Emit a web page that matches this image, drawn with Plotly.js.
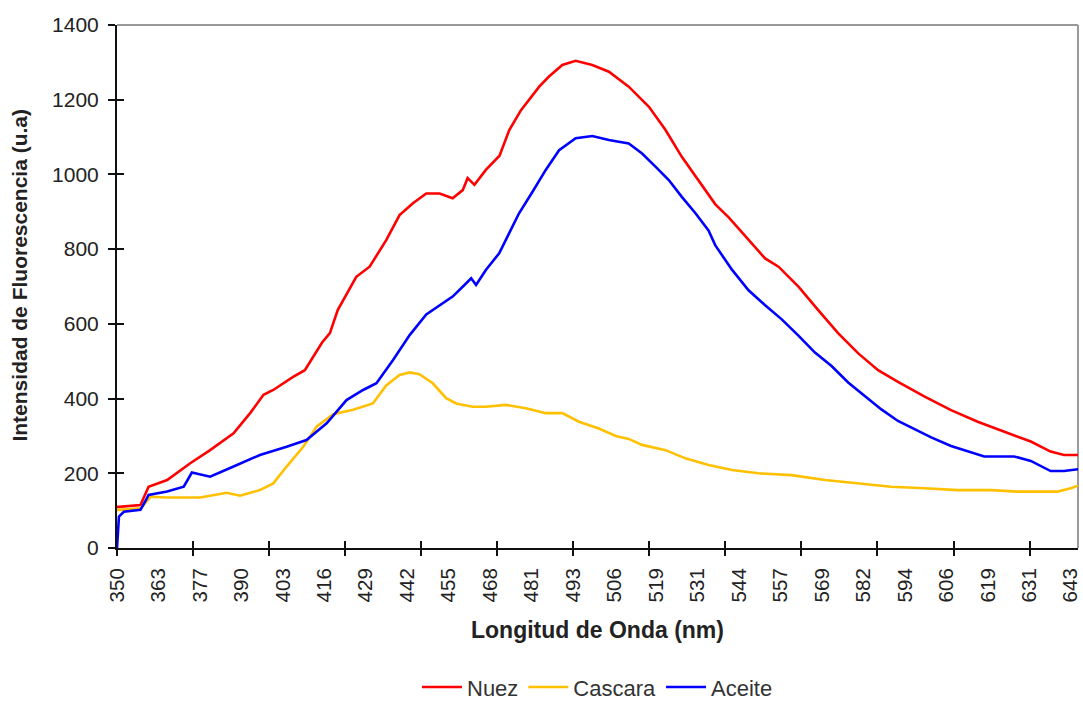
<!DOCTYPE html>
<html>
<head>
<meta charset="utf-8">
<script src="https://cdn.plot.ly/plotly-3.0.1.min.js"></script>
<style>
  html, body { margin: 0; padding: 0; background: #fff; }
  #chart { width: 1083px; height: 702px; }
</style>
</head>
<body>
<div id="chart"></div>
<script>
// ---- data ----
const tickLabels = ['350','363','377','390','403','416','429','442','455','468','481','493',
                    '506','519','531','544','557','569','582','594','606','619','631','643'];

const nuezX = [350, 350.6, 357.2, 358.7, 359.7, 365.4, 372.5, 378.6, 385.8, 390.9, 395.0, 398.0, 404.1, 407.7, 411.3, 413.0, 415.4, 417.8, 423.5, 427.6, 432.7, 436.8, 440.9, 445.0, 449.1, 453.1, 456.2, 457.7, 459.8, 463.3, 467.5, 470.5, 474.1, 479.7, 482.7, 486.8, 490.9, 496.0, 501.1, 507.2, 513.4, 518.5, 523.5, 529.7, 533.8, 537.9, 543.0, 549.1, 553.2, 559.4, 565.4, 571.5, 577.7, 583.8, 589.9, 598.1, 606.2, 614.4, 622.6, 630.7, 636.8, 640.9, 645.2];
const nuezY = [110, 110, 115, 146, 164, 182, 227, 262, 307, 361, 410, 423, 458, 476, 525, 550, 575, 637, 726, 753, 824, 891, 923, 949, 949, 936, 958, 990, 972, 1012, 1050, 1119, 1172, 1235, 1262, 1293, 1304, 1293, 1275, 1235, 1181, 1119, 1047, 970, 920, 885, 835, 775, 753, 699, 637, 575, 521, 476, 445, 405, 369, 338, 311, 285, 258, 249, 249];

const cascaraX = [350, 350.6, 357.2, 360.3, 365.4, 375.6, 383.7, 387.8, 393.9, 398.0, 402.1, 407.2, 411.3, 416.4, 422.5, 428.6, 432.7, 436.8, 439.9, 442.9, 447.0, 451.1, 454.2, 456.2, 459.2, 463.3, 469.5, 475.6, 481.7, 486.8, 491.9, 498.0, 503.2, 507.2, 511.3, 518.5, 524.6, 531.7, 538.9, 547.0, 557.2, 567.5, 577.7, 587.8, 598.1, 608.3, 618.5, 626.6, 638.9, 643.0, 645.2];
const cascaraY = [102, 102, 106, 137, 135, 135, 148, 140, 155, 173, 218, 271, 325, 358, 370, 387, 435, 463, 470, 465, 441, 401, 387, 383, 378, 378, 383, 374, 361, 361, 338, 320, 300, 292, 276, 262, 240, 222, 209, 200, 195, 182, 173, 164, 160, 155, 155, 151, 151, 160, 167];

const aceiteX = [350, 350.3, 350.6, 352.1, 357.2, 359.0, 359.7, 365.4, 370.5, 373.0, 378.6, 385.8, 393.9, 402.1, 408.2, 414.4, 420.5, 425.6, 429.7, 434.8, 439.9, 445.0, 449.1, 453.1, 457.2, 458.8, 460.3, 463.3, 467.4, 470.0, 473.5, 477.6, 481.7, 485.8, 490.9, 496.0, 501.1, 507.2, 511.3, 515.4, 519.5, 523.5, 527.7, 531.7, 533.8, 538.9, 544.0, 549.1, 554.2, 559.4, 564.4, 569.5, 574.6, 579.7, 584.8, 589.9, 595.0, 600.1, 606.2, 612.3, 616.4, 625.6, 630.7, 636.8, 640.9, 645.2];
const aceiteY = [0, 60, 84, 97, 102, 130, 142, 151, 164, 202, 191, 218, 249, 271, 289, 334, 396, 423, 441, 503, 570, 625, 650, 673, 708, 722, 704, 744, 789, 835, 896, 953, 1012, 1065, 1097, 1103, 1092, 1083, 1056, 1021, 985, 940, 896, 850, 810, 745, 690, 650, 612, 568, 523, 487, 443, 407, 371, 340, 318, 296, 273, 255, 245, 245, 233, 206, 206, 211];

const seriesNames = ['Nuez', 'Cascara', 'Aceite'];
const yTicks = [0, 200, 400, 600, 800, 1000, 1200, 1400];

// ---- axis geometry ----
const xMin = 350, xMax = 645.2;
const labelPos = tickLabels.map((_, i) => 350 + i * (643 - 350) / (tickLabels.length - 1));
const tickStep = 23.36;
const tickPos = [];
for (let v = xMin; v <= xMax; v += tickStep) tickPos.push(v);

const FONT = 'Liberation Sans, Arial, sans-serif';
const AX = '#111';

const traces = [
  {x: nuezX, y: nuezY, name: seriesNames[0], type: 'scatter', mode: 'lines',
   line: {color: '#ff0000', width: 2.6}},
  {x: cascaraX, y: cascaraY, name: seriesNames[1], type: 'scatter', mode: 'lines',
   line: {color: '#ffc000', width: 2.6}},
  {x: aceiteX, y: aceiteY, name: seriesNames[2], type: 'scatter', mode: 'lines',
   line: {color: '#0000ff', width: 2.6}},
  // invisible helpers so the tick-only overlay axes are drawn
  {x: [xMin], y: [0], xaxis: 'x2', yaxis: 'y', type: 'scatter', mode: 'markers',
   marker: {opacity: 0}, showlegend: false, hoverinfo: 'skip'},
  {x: [xMin], y: [0], xaxis: 'x3', yaxis: 'y', type: 'scatter', mode: 'markers',
   marker: {opacity: 0}, showlegend: false, hoverinfo: 'skip'},
  {x: [xMin], y: [0], xaxis: 'x', yaxis: 'y2', type: 'scatter', mode: 'markers',
   marker: {opacity: 0}, showlegend: false, hoverinfo: 'skip'}
];

const tickAxis = (inside) => ({
  overlaying: 'x', anchor: 'y', side: 'bottom', range: [xMin, xMax],
  tickmode: 'array', tickvals: tickPos, ticks: inside ? 'inside' : 'outside',
  ticklen: 7, tickwidth: 2, tickcolor: AX, showticklabels: false,
  showgrid: false, zeroline: false, showline: false, fixedrange: true
});

const layout = {
  width: 1083, height: 702,
  margin: {l: 117, r: 5, t: 25, b: 154, autoexpand: false},
  paper_bgcolor: '#fff', plot_bgcolor: '#fff',
  font: {family: FONT, color: '#222'},
  showlegend: true,
  legend: {orientation: 'h', xref: 'paper', x: 0.5, xanchor: 'center',
           yref: 'container', y: 0.021, yanchor: 'middle',
           font: {family: FONT, size: 22, color: '#333'}, traceorder: 'normal', itemwidth: 40},
  xaxis: {
    range: [xMin, xMax], tickmode: 'array', tickvals: labelPos, ticktext: tickLabels,
    tickangle: -90, ticks: '', showline: true, linecolor: AX, linewidth: 2,
    showgrid: false, zeroline: false, ticklabelstandoff: 10, ticklabeloverflow: 'allow',
    automargin: false, tickfont: {family: FONT, size: 20.5, color: '#222'}
  },
  xaxis2: tickAxis(false),
  xaxis3: tickAxis(true),
  yaxis: {
    range: [0, 1400], tickmode: 'array', tickvals: yTicks, ticks: 'outside',
    ticklen: 7, tickwidth: 2, tickcolor: AX, showline: true, linecolor: AX, linewidth: 2,
    showgrid: false, zeroline: false, ticklabelstandoff: 5, automargin: false,
    tickfont: {family: FONT, size: 21, color: '#222'}
  },
  yaxis2: {
    overlaying: 'y', anchor: 'x', side: 'left', range: [0, 1400],
    tickmode: 'array', tickvals: yTicks, ticks: 'inside', ticklen: 7, tickwidth: 2,
    tickcolor: AX, showticklabels: false, showgrid: false, zeroline: false, showline: false
  },
  shapes: [
    {type: 'line', xref: 'paper', yref: 'paper', x0: 0, x1: 1, y0: 1, y1: 1,
     line: {color: '#9a9a9a', width: 2}, layer: 'below'},
    {type: 'line', xref: 'paper', yref: 'paper', x0: 1, x1: 1, y0: 0, y1: 1,
     line: {color: '#9a9a9a', width: 2}, layer: 'below'}
  ],
  annotations: [
    {text: 'Intensidad de Fluorescencia (u.a)', xref: 'paper', yref: 'paper',
     x: -0.1014, y: 0.522, xanchor: 'center', yanchor: 'middle', textangle: -90,
     showarrow: false, font: {family: FONT, size: 21, weight: 'bold', color: '#222'}},
    {text: 'Longitud de Onda (nm)', xref: 'paper', yref: 'paper',
     x: 0.5, y: -0.1568, xanchor: 'center', yanchor: 'middle',
     showarrow: false, font: {family: FONT, size: 23, weight: 'bold', color: '#222'}}
  ]
};

Plotly.newPlot('chart', traces, layout, {displayModeBar: false, staticPlot: true});
</script>
</body>
</html>
